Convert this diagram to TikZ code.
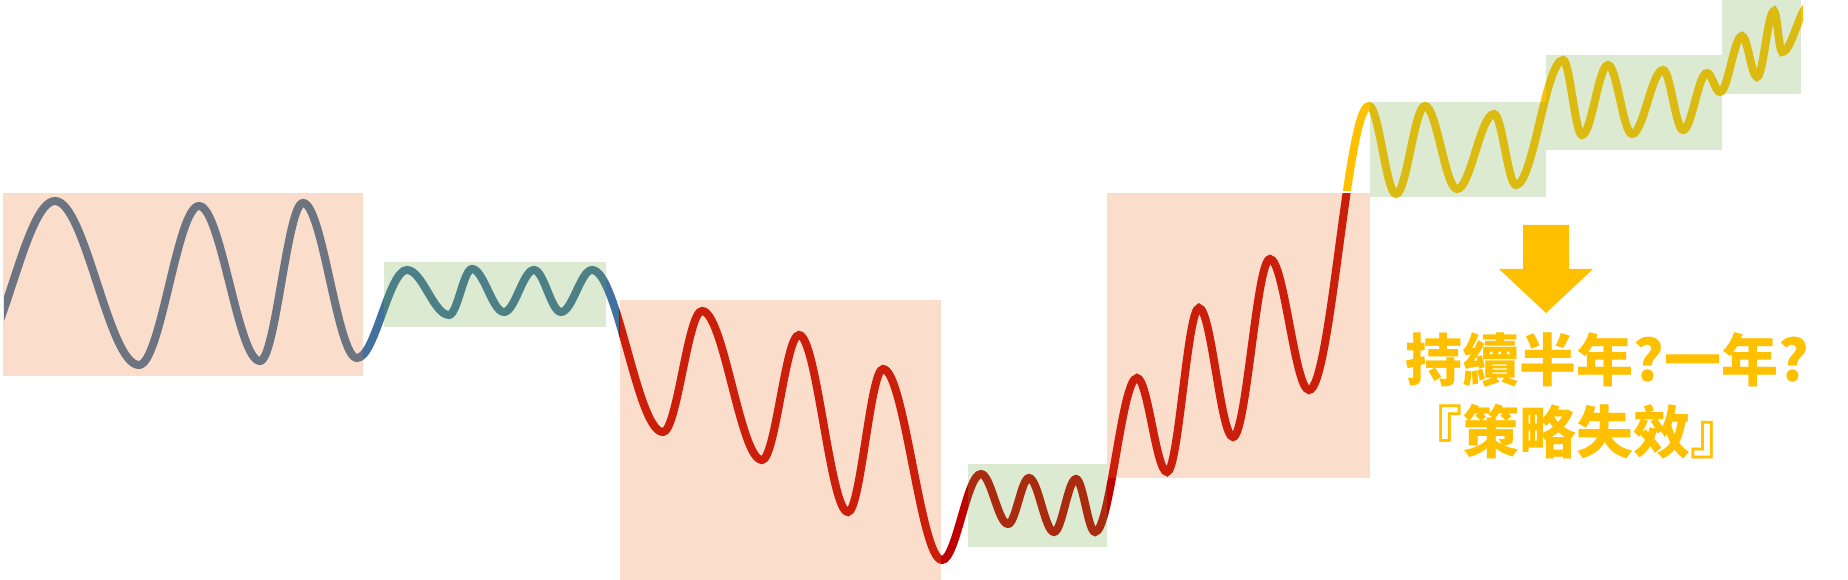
\documentclass[tikz,border=0pt]{standalone}
\usepackage{fontspec}
\newfontfamily\cjk{Noto Sans CJK TC}
\usetikzlibrary{positioning}
\definecolor{wvBlue}{HTML}{41719C}
\definecolor{wvRed} {HTML}{C00000}
\definecolor{wvGold}{HTML}{FFC000}
\definecolor{bxRange}{HTML}{ED7D31}
\definecolor{bxFlat} {HTML}{70AD47}

% one wave through its turning points, each half swing a cosine-like bezier
\newcommand\wavecurve[1]{%
  \draw[wave,#1] (-30,366)
    \foreach \x/\y [remember=\x as \px (initially -30)] in
      {55/201,139/365,199/206,260/361,303/203,357/358,
       407/270,449/315,472/269,504/312,534/270,561/312,592/270,
       663/432,702/311,762/460,799/335,848/512,883/369,942/560,
       981/474,1008/524,1029/478,1054/532,1076/479,1095/532,
       1137/378,1167/472,1199/308,1233/437,1270/259,1309/390,
       1369/106,1396/194,1425/106,1457/189,1494/114,1516/185,
       1563/60,1582/135,1608/65,1632/134,1663/70,1683/130,1707/73,1720/92,
       1742/36,1757/77,1774/11,1782/52,1810/5}
      { .. controls +({0.363*(\x-(\px))},0) and +({-0.363*(\x-(\px))},0) .. (\x,\y) };}

\begin{document}
\begin{tikzpicture}[x=0.01cm,y=-0.01cm,
      wave/.style={line width=0.08cm},
      box/.style={draw=none,fill opacity=0.25},
      msg/.style={text=wvGold,inner sep=0pt,anchor=base west,
                  font=\cjk\bfseries\fontsize{16.2pt}{20pt}\selectfont}]
    \useasboundingbox (0,0) rectangle (1848,580);

    % the same wave three times, each colour kept to its own stretch
    \begin{scope}
      \clip (4,-50) rectangle (619,650);
      \wavecurve{wvBlue}
    \end{scope}
    \begin{scope}
      \clip (619,193.3) rectangle (1365,650);
      \wavecurve{wvRed}
    \end{scope}
    \begin{scope}
      \clip (1300,-50) -- (1803,-50) -- (1803,650) -- (1365,650)
            -- (1365,190.8) -- (1300,190.8) -- cycle;
      \wavecurve{wvGold}
    \end{scope}

    % shaded ranges laid over the wave
    \foreach \a/\b/\c/\d in {3/193/363/376,620/300/941/580,1107/193/1370/478}
      \fill[box,bxRange] (\a,\b) rectangle (\c,\d);
    \foreach \a/\b/\c/\d in {384/262/606/327,968/464/1107/547,1370/102/1546/197,
                             1546/55/1722/150,1722/0/1801/94}
      \fill[box,bxFlat] (\a,\b) rectangle (\c,\d);

    \fill[wvGold] (1523,225) -- (1569,225) -- (1569,269) -- (1593,269)
      -- (1546,313) -- (1499,269) -- (1523,269) -- cycle;

    \node[msg] (msgA) at (1405,382) {持續半年?一年?};
    \node[msg] (msgB) at (1405,454) {『策略失效』};
  \end{tikzpicture}
\end{document}
